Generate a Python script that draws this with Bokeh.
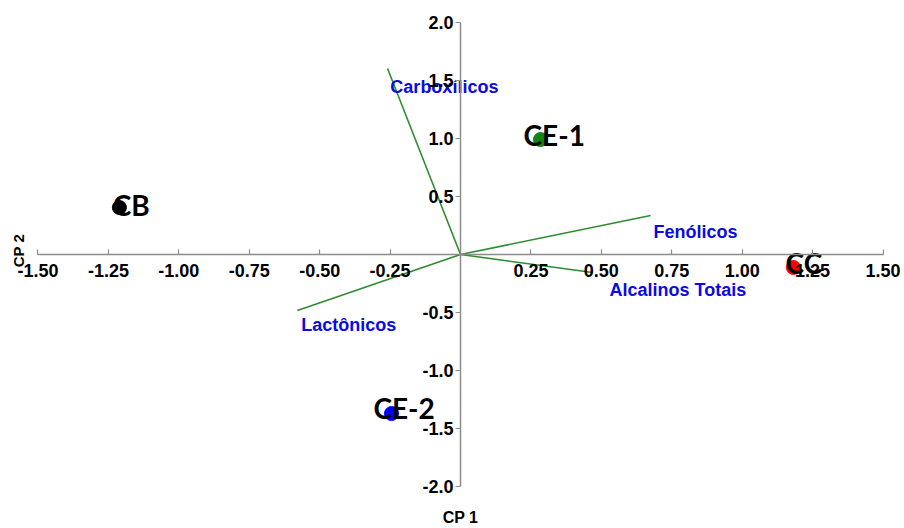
import math
from bokeh.plotting import figure
from bokeh.models import (Range1d, FixedTicker, NumeralTickFormatter)
from bokeh.core.properties import value
from bokeh.embed import file_html
from bokeh.resources import INLINE

# Scores (samples)
samples = ["CB", "CE-1", "CC", "CE-2"]
cp1 = [-1.211, 0.284, 1.182, -0.245]
cp2 = [0.405, 0.991, -0.112, -1.371]
sample_colors = ["#000000", "#148214", "#ff0000", "#0000ff"]
sample_label_x = [-1.235, 0.224, 1.154, -0.309]
sample_label_y = [0.431, 1.026, -0.069, -1.319]

# Loadings (variables)
variables = ["Carboxílicos", "Fenólicos", "Alcalinos Totais", "Lactônicos"]
load1 = [-0.259, 0.675, 0.469, -0.579]
load2 = [1.603, 0.336, -0.155, -0.483]
var_label_x = [-0.249, 0.685, 0.529, -0.565]
var_label_y = [1.448, 0.190, -0.302, -0.612]

x_ticks = [-1.5, -1.25, -1.0, -0.75, -0.5, -0.25, 0.25, 0.5, 0.75, 1.0, 1.25, 1.5]
y_ticks = [-2.0, -1.5, -1.0, -0.5, 0.5, 1.0, 1.5, 2.0]

# axis titles
axis_titles = ["CP 1", "CP 2"]
axis_title_x = [0.0, -1.569]
axis_title_y = [-2.265, 0.034]

W, H = 904, 528
p = figure(width=W, height=H,
           x_range=Range1d(-1.6331, 1.5763), y_range=Range1d(-2.3621, 2.1897),
           output_backend="svg", toolbar_location=None,
           min_border=0)
p.outline_line_color = None
p.grid.visible = False
p.background_fill_color = "white"

for ax, ticks, fmt, bnds in ((p.xaxis, x_ticks, "0.00", (-1.5, 1.5)),
                             (p.yaxis, y_ticks, "0.0", (-2.0, 2.0))):
    ax.fixed_location = 0
    ax.bounds = bnds
    ax.ticker = FixedTicker(ticks=ticks)
    ax.formatter = NumeralTickFormatter(format=fmt)
    ax.axis_line_color = "#8c8c8c"
    ax.axis_line_width = 1.5
    ax.major_tick_line_color = "#8c8c8c"
    ax.major_tick_line_width = 1.2
    ax.minor_tick_line_color = None
    ax.major_label_text_font = "Liberation Sans"
    ax.major_label_text_font_style = "bold"
    ax.major_label_text_font_size = "18px"
    ax.major_label_text_color = "#000000"

p.xaxis.major_tick_in = 5
p.xaxis.major_tick_out = 0
p.xaxis.major_label_standoff = 9
p.yaxis.major_tick_in = 0
p.yaxis.major_tick_out = 5
p.yaxis.major_label_standoff = 2

# loading vectors
for a, b in zip(load1, load2):
    p.line([0, a], [0, b], line_color="#2e8b2e", line_width=1.6)

p.text(x=var_label_x, y=var_label_y, text=variables,
       text_font=value("Liberation Sans"), text_font_style="bold",
       text_font_size="18px", text_color="#0a0ae6",
       text_align="left", text_baseline="alphabetic")

p.scatter(cp1, cp2, size=14, fill_color=sample_colors, line_color=sample_colors)

p.text(x=sample_label_x, y=sample_label_y, text=samples,
       text_font=value("Lato"), text_font_style="bold",
       text_font_size="28px", text_color="#000000",
       text_align="left", text_baseline="alphabetic")

p.text(x=axis_title_x[:1], y=axis_title_y[:1], text=axis_titles[:1],
       text_font=value("Liberation Sans"), text_font_style="bold",
       text_font_size="16px", text_color="#000000",
       text_align="center", text_baseline="alphabetic")
p.text(x=axis_title_x[1:], y=axis_title_y[1:], text=axis_titles[1:],
       angle=math.pi / 2,
       text_font=value("Liberation Sans"), text_font_style="bold",
       text_font_size="15px", text_color="#000000",
       text_align="center", text_baseline="middle")

open("out.html", "w").write(file_html(p, INLINE))
